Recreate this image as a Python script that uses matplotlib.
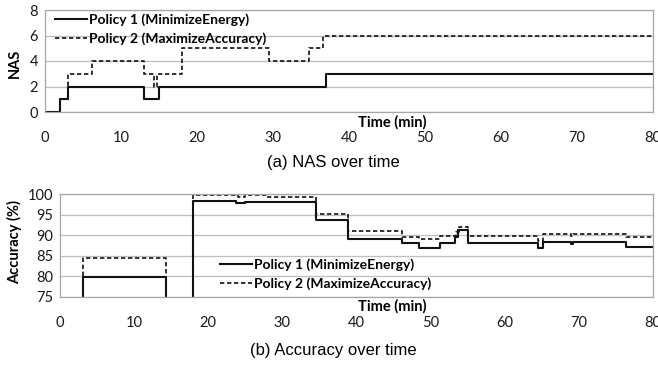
import matplotlib.pyplot as plt

# NAS over time
nas_t1 = [0, 2, 3, 13, 15, 37, 80]
nas_v1 = [0, 1, 2, 1, 2, 3, 3]
nas_t2 = [0, 2, 3, 6.2, 13, 14.3, 14.8, 18, 29.5, 34.7, 36.6, 80]
nas_v2 = [0, 1, 3, 4, 3, 2, 3, 5, 4, 5, 6, 6]

# accuracy over time (0 = no value, drawn below the axis)
acc_t1 = [0, 3.1, 14.3, 17.9, 23.8, 25.0, 34.6, 38.9, 46.2, 48.4, 51.2,
          53.3, 53.7, 55.0, 64.5, 65.1, 69.0, 69.2, 76.4, 80]
acc_v1 = [0, 79.8, 0, 98.2, 97.9, 98.1, 93.6, 89.0, 88.0, 86.9, 88.0,
          89.5, 91.2, 88.0, 86.8, 88.3, 87.8, 88.3, 87.2, 87.2]
acc_t2 = [0, 3.1, 14.3, 17.9, 24.0, 25.0, 27.9, 34.6, 38.9, 46.2, 48.4, 51.2,
          53.4, 53.8, 55.0, 64.5, 65.1, 69.0, 69.2, 76.4, 80]
acc_v2 = [0, 84.4, 0, 99.75, 99.3, 99.75, 99.2, 95.1, 90.9, 89.6, 89.0, 89.8,
          90.8, 92.0, 89.7, 88.6, 90.2, 89.9, 90.2, 89.5, 89.5]

labels = ["Policy 1 (MinimizeEnergy)", "Policy 2 (MaximizeAccuracy)"]

chart_font = ["Lato", "DejaVu Sans"]
plt.rcParams['font.family'] = chart_font

fig = plt.figure(figsize=(6.58, 3.66), dpi=100)
W, H = 658.0, 366.0


def make_ax(left, top, right, bottom):
    return fig.add_axes([left / W, 1 - bottom / H, (right - left) / W, (bottom - top) / H])


def style(ax):
    for s in ax.spines.values():
        s.set_color('#a6a6a6')
        s.set_linewidth(0.9)
    ax.grid(axis='y', color='#bfbfbf', linewidth=0.9)
    ax.set_axisbelow(True)
    ax.tick_params(length=0, labelsize=10.5, colors='#1a1a1a')
    ax.tick_params(axis='x', pad=14)
    ax.tick_params(axis='y', pad=5)
    ax.set_xlim(0, 80)
    ax.set_xticks(range(0, 81, 10))


solid = dict(color='#111111', linewidth=1.5, where='post')
dashed = dict(color='#111111', linewidth=1.2, where='post', linestyle=(0, (2.6, 1.6)))
leg_kw = dict(loc='upper left', frameon=False, borderpad=0, borderaxespad=0,
              handlelength=2.3, handletextpad=0.15, labelspacing=0.45,
              prop={'weight': 'bold', 'size': 10})

ax1 = make_ax(45, 10, 653, 112)
style(ax1)
ax1.step(nas_t1, nas_v1, label=labels[0], **solid)
ax1.step(nas_t2, nas_v2, label=labels[1], **dashed)
ax1.set_ylim(0, 8)
ax1.set_yticks(range(0, 9, 2))
ax1.legend(bbox_to_anchor=(0.016, 0.965), **leg_kw)

ax2 = make_ax(60, 194, 653, 297)
style(ax2)
ax2.step(acc_t1, acc_v1, label=labels[0], **solid)
ax2.step(acc_t2, acc_v2, label=labels[1], **dashed)
ax2.set_ylim(75, 100)
ax2.set_yticks(range(75, 101, 5))
ax2.legend(bbox_to_anchor=(0.27, 0.375), **leg_kw)

fig.text(15 / W, 1 - 63 / H, "NAS", rotation=90, ha='center', va='center',
         fontsize=10.5, fontweight='bold')
fig.text(15 / W, 1 - 242 / H, "Accuracy (%)", rotation=90, ha='center', va='center',
         fontsize=10.5, fontweight='bold')
fig.text(392 / W, 1 - 122 / H, "Time (min)", ha='center', va='center',
         fontsize=10.5, fontweight='bold')
fig.text(392 / W, 1 - 306 / H, "Time (min)", ha='center', va='center',
         fontsize=10.5, fontweight='bold')

fig.text(333 / W, 1 - 163 / H, "(a) NAS over time", ha='center', va='center',
         fontsize=12, family=['Liberation Sans', 'DejaVu Sans'])
fig.text(333 / W, 1 - 350 / H, "(b) Accuracy over time", ha='center', va='center',
         fontsize=12, family=['Liberation Sans', 'DejaVu Sans'])

fig.savefig("out.png", dpi=100)
